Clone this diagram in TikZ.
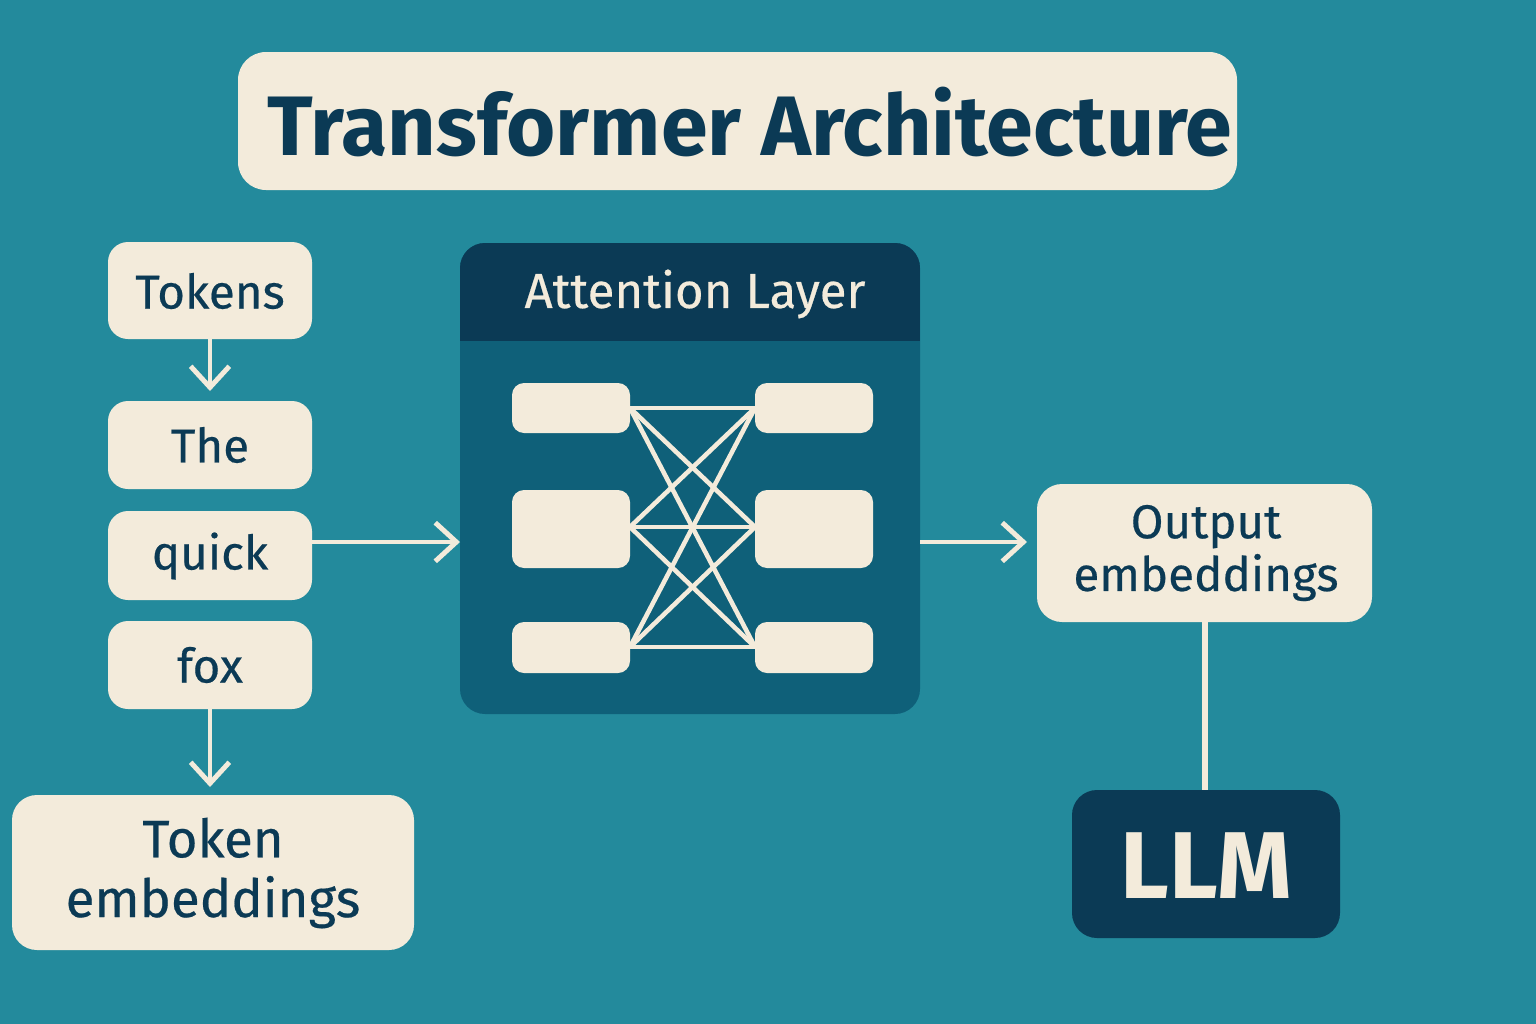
\documentclass[tikz,border=0pt]{standalone}
\usepackage{fontspec}
\setmainfont{Fira Sans}
\usetikzlibrary{arrows.meta}
\definecolor{bg}{HTML}{238A9C}
\definecolor{cream}{HTML}{F3EBDB}
\definecolor{navy}{HTML}{0B3A55}
\definecolor{attn}{HTML}{0F6079}
\begin{document}
\begin{tikzpicture}[x=0.01cm,y=-0.01cm,
  cbox/.style={fill=cream,rounded corners=0.2cm,draw=none},
  lbl/.style={text=navy,align=center,font=\fontsize{13.5}{15}\selectfont\addfontfeature{FakeBold=0.4}},
  arr/.style={draw=cream,line width=1.4pt,-{Straight Barb[length=6pt,width=11pt]}},
  web/.style={draw=cream,line width=1.3pt}]
\fill[bg] (0,0) rectangle (1536,1024);
\useasboundingbox (0,0) rectangle (1536,1024);
% title
\fill[cbox,rounded corners=0.28cm] (238,52) rectangle (1237,190);
\node[text=navy,font=\fontsize{24}{28}\selectfont\bfseries] (title) at (750,122) {Transformer Architecture};
% token column
\fill[cbox] (108,242) rectangle (312,339); \node[lbl] (tok) at (210,291) {Tokens};
\fill[cbox] (108,401) rectangle (312,489); \node[lbl] (the) at (210,445) {The};
\fill[cbox] (108,511) rectangle (312,600); \node[lbl] (quick) at (210,556) {quick};
\fill[cbox] (108,621) rectangle (312,709); \node[lbl] (fox) at (210,665) {fox};
\fill[cbox,rounded corners=0.25cm] (12,795) rectangle (414,950);
\node[lbl,font=\fontsize{15}{17}\selectfont\addfontfeature{FakeBold=0.4}] (temb) at (213,873) {Token\\embeddings};
\coordinate (tokB) at (210,339); \coordinate (theT) at (210,391);
\coordinate (foxB) at (210,709); \coordinate (tembT) at (210,787);
\draw[arr] (tokB) -- (theT);
\draw[arr] (foxB) -- (tembT);
% attention layer
\fill[attn,rounded corners=0.25cm] (460,243) rectangle (920,714);
\begin{scope}
\clip[rounded corners=0.25cm] (460,243) rectangle (920,714);
\fill[navy] (460,243) rectangle (920,341);
\end{scope}
\node[text=cream,font=\fontsize{14}{16}\selectfont\addfontfeature{FakeBold=0.4}] (attnT) at (695,294) {Attention Layer};
\foreach \n/\a/\b in {1/383/433,2/490/568,3/622/673}{
  \fill[cbox,rounded corners=0.12cm] (512,\a) rectangle (630,\b);
  \fill[cbox,rounded corners=0.12cm] (755,\a) rectangle (873,\b);
}
\coordinate (L1) at (630,408); \coordinate (L2) at (630,527); \coordinate (L3) at (630,647);
\coordinate (R1) at (755,408); \coordinate (R2) at (755,527); \coordinate (R3) at (755,647);
\foreach \i in {1,2,3}{\foreach \j in {1,2,3}{\draw[web] (L\i) -- (R\j);}}
\coordinate (quickR) at (312,542); \coordinate (attnL) at (460,542);
\draw[arr] (quickR) -- (attnL);
\coordinate (attnR) at (920,542); \coordinate (outL) at (1027,542);
\draw[arr] (attnR) -- (outL);
% output
\fill[cbox,rounded corners=0.25cm] (1037,484) rectangle (1372,622);
\node[lbl] (out) at (1206,553) {Output\\embeddings};
\fill[navy,rounded corners=0.25cm] (1072,790) rectangle (1340,938);
\node[text=cream,font=\fontsize{27}{30}\selectfont\bfseries] (llm) at (1206,866) {LLM};
\coordinate (outB) at (1205,622); \coordinate (llmT) at (1205,790);
\draw[draw=cream,line width=1.6pt] (outB) -- (llmT);
\end{tikzpicture}
\end{document}
